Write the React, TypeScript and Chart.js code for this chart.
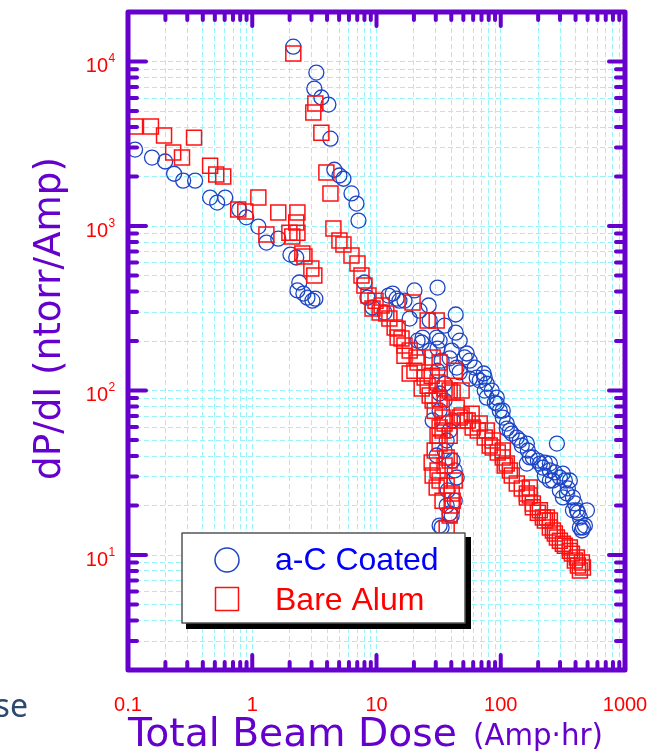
import React, { useEffect, useRef } from 'react';
import { Chart, registerables } from 'chart.js';

Chart.register(...registerables);

// a-C Coated (blue circles)
const coatedDose = [
  0.114, 0.156, 0.199, 0.235, 0.278, 0.347, 0.458, 0.522, 0.606, 0.785, 0.895, 1.12, 1.3, 1.62, 2.03, 2.26,
  2.39, 2.31, 2.58, 2.78, 3.05, 3.22, 2.14, 3.28, 3.16, 3.6, 4.1, 4.26, 4.58, 5.03, 5.42, 6.29, 6.9, 7.16,
  8.0, 8.46, 9.29, 12.5, 13.5, 14.5, 15.3, 20.2, 31.0, 26.3, 43.4, 43.4, 11.6, 18.5, 23.5, 30.5, 23.1, 32.2,
  53.2, 44.2, 61.7, 64.0, 32.2, 28.3, 41.0, 36.7, 41.0, 44.2, 38.8, 33.4, 40.3, 32.2, 77.1, 72.9, 84.6, 92.9,
  103.8, 103.8, 111.7, 118.3, 134.6, 142.3, 162.2, 171.4, 181.2, 206.5, 218.2, 283.1, 248.4, 299.2, 316.2,
  359.8, 340.4, 381, 381, 410, 433.6, 458.6, 449.8, 21.4, 31.0, 38.8, 51.3, 74.3, 35.3, 31.0, 92.9, 77.1,
  162.2, 248.4, 316.2, 494, 433.6, 248.4, 35.3, 37.4, 42.6, 30.5,
  56.2, 67.7, 74.3, 89.5, 98.2, 111.7, 122.7, 147.6, 165.2, 198.8, 226.5, 272.4, 328, 346.7, 395, 418, 475.6,
  299, 262.7, 226.5,
  16.8, 22.2, 26.8, 35.3, 46.7, 40.3, 26.8, 33.4, 46.7, 56.2, 32.2, 38.8, 35.3, 42.6, 36.7,
];
const coatedRate = [
  2920, 2610, 2470, 2080, 1890, 1890, 1490, 1390, 1490, 1260, 1130, 993, 794, 839, 671, 644,
  454, 406, 389, 367, 352, 362, 12330, 8580, 6850, 6050, 5480, 3400, 2200, 2030, 1940, 1580, 1370, 1080,
  454, 367, 320, 378, 389, 362, 352, 406, 423, 329, 290, 225, 298, 274, 210, 210, 196, 201,
  168, 138, 138, 120, 96, 65.8, 65.8, 49.7, 37.5, 29.6, 17.9, 14.7, 17.4, 15.1, 110, 127, 100, 90.6,
  75.5, 68.5, 63.0, 57.1, 51.8, 49.7, 47.6, 39.2, 39.2, 36.0, 34.0, 47.6, 32.7, 29.6, 31.3,
  28.4, 23.7, 22.4, 18.7, 18.7, 16.9, 14.7, 14.1, 201, 180, 157, 159, 120, 110, 132, 83.4, 90.6,
  36.0, 36.0, 22.4, 18.7, 14.7, 28.4, 86.9, 24.7, 32.7, 40.3,
  152, 115, 100, 84.5, 75.5, 58.7, 54.8, 46.3, 43.2, 37.5, 36.5, 31.8, 28.4, 25.4, 20.6, 18.1, 15.1,
  24.7, 28.4, 30.4,
  352, 306, 267, 248, 201, 175, 175, 152, 129, 118, 75.5, 57.1, 43.2, 21.4, 20.0,
];

// Bare Alum (red squares)
const bareDose = [
  0.114, 0.153, 0.195, 0.231, 0.272, 0.34, 0.458, 0.513, 0.584, 0.771, 0.879, 1.12, 1.3, 1.62, 2.31, 2.26,
  1.99, 2.31, 2.1, 2.53, 2.63, 2.99, 3.16, 2.14, 3.22, 3.1, 3.6, 3.95, 4.26, 4.5, 5.03, 5.42, 6.29, 7.03,
  8.0, 8.62, 9.29, 10.6, 12.0, 14.0, 19.5, 25.8, 30.5, 15.9, 16.8, 21.0, 28.3, 32.2, 20.2, 24.4, 23.1, 26.8,
  32.2, 41.0, 44.2, 34.0, 46.7, 58.3, 67.7, 77.1, 34.0, 32.2, 27.8, 31.0, 38.8, 30.5, 40.3, 40.3, 36.7, 18.5,
  38.8, 28.3, 59.4, 86.1, 103.8, 118.3, 134.6, 162.2, 162.2, 181.2, 181.2, 206.5, 218.2, 235, 248.4, 262.7,
  283.1, 299.2, 316.2, 359.8, 410, 449.8, 433.6, 103.8, 111.7, 171.4, 248.4, 359.8, 86.1, 51.3, 36.7, 32.2,
  41.0, 42.6, 48.4, 14.8,
  65.3, 74.3, 81.5, 94.6, 107.6, 122.7, 147.6, 171.4, 198.8, 226.5, 272.4, 328, 374, 418, 458.6, 395,
  7.57, 9.82, 11.0, 12.7, 14.8, 16.8, 18.5, 21.4, 27.8, 31.0, 35.3, 25.8,
  29.4, 35.3, 31.0, 38.8, 29.4, 35.3, 32.2, 36.7, 28.3, 38.8, 34.0, 42.6, 48.4, 54.2,
];
const bareRate = [
  4030, 4030, 3550, 2800, 2610, 3450, 2330, 2060, 2000, 1260, 1225, 1490, 888, 1210, 1210, 1050,
  912, 912, 863, 681, 653, 552, 500, 11190, 5560, 4900, 3700, 2115, 1580, 966, 817, 772, 662, 592,
  435, 378, 315, 298, 294, 242, 343, 267, 267, 207, 163, 159, 159, 148, 132, 120, 103, 93.3,
  89.3, 97.3, 78.9, 68.5, 68.5, 72.4, 63.0, 57.1, 57.1, 47.6, 36.5, 32.7, 37.5, 25.7, 23.7, 20.0, 14.5, 127,
  100, 86.9, 59.6, 45.0, 39.2, 32.7, 27.2, 23.7, 22.4, 20.6, 19.5, 18.7, 16.9, 16.9, 14.7, 14.1,
  12.8, 12.2, 11.7, 10.6, 9.66, 9.0, 8.05, 43.2, 36.0, 25.7, 16.2, 11.1, 49.7, 65.8, 39.2, 59.6,
  21.4, 132, 100, 210,
  57.1, 51.8, 46.3, 42.0, 35.0, 30.4, 25.4, 23.0, 18.1, 16.2, 13.5, 11.4, 10.2, 8.63, 8.39, 9.27,
  500, 352, 329, 274, 238, 188, 175, 148, 123, 112, 103, 107,
  75.5, 63.0, 53.2, 53.2, 43.2, 35.0, 28.4, 26.4, 30.4, 17.4, 21.4, 28.4, 70.5, 65.8,
];

// Axes
const xGridValues = [
  0.1, 0.2, 0.3, 0.4, 0.5, 0.6, 0.7, 0.8, 0.9, 1, 2, 3, 4, 5, 6, 7, 8, 9, 10, 20, 30, 40, 50, 60, 70, 80, 90,
  100, 200, 300, 400, 500, 600, 700, 800, 900, 1000,
];
const yGridValues = [
  2, 3, 4, 5, 6, 7, 8, 9, 10, 20, 30, 40, 50, 60, 70, 80, 90, 100, 200, 300, 400, 500, 600, 700, 800, 900,
  1000, 2000, 3000, 4000, 5000, 6000, 7000, 8000, 9000, 10000, 20000,
];
const xMajorValues = [0.1, 1, 10, 100, 1000];
const xTickLabels = ['0.1', '1', '10', '100', '1000'];
const yMajorValues = [10, 100, 1000, 10000];
const yTickExponents = ['1', '2', '3', '4'];

const seriesNames = ['a-C Coated', 'Bare Alum'];
const yTitle = 'dP/dI (ntorr/Amp)';
const xTitleMain = 'Total Beam Dose';
const xTitleUnit = '(Amp\u00b7hr)';
const sideText = 'se';

const PURPLE = '#6600cc';
const BLUE_MARK = '#1d45c6';
const RED_MARK = '#ff1010';
const GRID = 'rgb(150,244,250)';
const TITLE_FONT = '"DejaVu Sans", sans-serif';
const NUM_FONT = '"Liberation Sans", Arial, sans-serif';

function fitFont(ctx: CanvasRenderingContext2D, text: string, family: string, width: number) {
  ctx.font = `100px ${family}`;
  const w = ctx.measureText(text).width;
  const size = (100 * width) / w;
  return `${size.toFixed(2)}px ${family}`;
}

const decorPlugin = {
  id: 'decor',
  afterDraw(chart: any) {
    const ctx: CanvasRenderingContext2D = chart.ctx;
    const area = chart.chartArea;
    const xs = chart.scales.x;
    const ys = chart.scales.y;
    ctx.save();

    // ticks
    ctx.strokeStyle = PURPLE;
    ctx.lineCap = 'round';
    ctx.lineWidth = 4;
    xGridValues.forEach((v) => {
      if (v === xs.min || v === xs.max) return;
      const px = xs.getPixelForValue(v);
      const major = xMajorValues.includes(v);
      ctx.beginPath();
      ctx.moveTo(px, area.top);
      ctx.lineTo(px, area.top + (major ? 14 : 8));
      ctx.moveTo(px, area.bottom);
      ctx.lineTo(px, area.bottom - (major ? 15 : 8));
      ctx.stroke();
    });
    yGridValues.forEach((v) => {
      if (v === ys.min || v === ys.max) return;
      const py = ys.getPixelForValue(v);
      const major = yMajorValues.includes(v);
      ctx.beginPath();
      ctx.moveTo(area.left, py);
      ctx.lineTo(area.left + (major ? 18 : 9), py);
      ctx.moveTo(area.right, py);
      ctx.lineTo(area.right - (major ? 16 : 9), py);
      ctx.stroke();
    });

    // frame
    ctx.lineWidth = 5;
    ctx.lineJoin = 'round';
    ctx.strokeRect(area.left, area.top, area.right - area.left, area.bottom - area.top);

    // tick labels
    ctx.fillStyle = '#ff0000';
    ctx.textBaseline = 'alphabetic';
    xMajorValues.forEach((v, i) => {
      const px = xs.getPixelForValue(v);
      ctx.font = `20px ${NUM_FONT}`;
      ctx.textAlign = 'center';
      ctx.fillText(xTickLabels[i], px, 711);
    });
    yMajorValues.forEach((v, i) => {
      const py = ys.getPixelForValue(v);
      ctx.font = `20px ${NUM_FONT}`;
      ctx.textAlign = 'right';
      ctx.fillText('10', 108, py + 10.5);
      ctx.font = `12px ${NUM_FONT}`;
      ctx.textAlign = 'left';
      ctx.fillText(yTickExponents[i], 108.5, py + 0.5);
    });

    // axis titles
    ctx.fillStyle = PURPLE;
    ctx.textAlign = 'left';
    ctx.font = fitFont(ctx, xTitleMain, TITLE_FONT, 329);
    ctx.fillText(xTitleMain, 128, 746);
    ctx.font = fitFont(ctx, xTitleUnit, TITLE_FONT, 130);
    ctx.fillText(xTitleUnit, 473, 745);

    ctx.save();
    ctx.translate(60, 318.5);
    ctx.rotate(-Math.PI / 2);
    ctx.textAlign = 'center';
    ctx.font = fitFont(ctx, yTitle, TITLE_FONT, 323);
    ctx.fillText(yTitle, 0, 0);
    ctx.restore();

    // stray slide text
    ctx.fillStyle = '#2c4a6e';
    ctx.textAlign = 'right';
    ctx.font = `32px "Noto Sans", sans-serif`;
    ctx.fillText(sideText, 28, 717);

    // legend
    ctx.fillStyle = '#000000';
    ctx.fillRect(186, 537, 285, 92);
    ctx.fillStyle = '#ffffff';
    ctx.fillRect(182, 533, 283, 90);
    ctx.strokeStyle = '#555555';
    ctx.lineWidth = 1.5;
    ctx.strokeRect(182, 533, 283, 90);

    ctx.lineWidth = 1.5;
    ctx.strokeStyle = BLUE_MARK;
    ctx.beginPath();
    ctx.arc(227, 560, 12, 0, Math.PI * 2);
    ctx.stroke();
    ctx.strokeStyle = RED_MARK;
    ctx.strokeRect(215.5, 587.5, 23, 23);

    ctx.font = `32px ${NUM_FONT}`;
    ctx.textAlign = 'left';
    ctx.fillStyle = '#0000ff';
    ctx.fillText(seriesNames[0], 275, 570);
    ctx.fillStyle = '#ff0000';
    ctx.fillText(seriesNames[1], 275, 610);

    ctx.restore();
  },
};

export default function App() {
  const ref = useRef<HTMLCanvasElement | null>(null);

  useEffect(() => {
    if (!ref.current) return;
    const chart = new Chart(ref.current, {
      type: 'scatter',
      data: {
        datasets: [
          {
            label: seriesNames[0],
            data: coatedDose.map((x, i) => ({ x, y: coatedRate[i] })),
            pointStyle: 'circle',
            pointRadius: 7.5,
            pointBorderWidth: 1.3,
            pointBorderColor: BLUE_MARK,
            pointBackgroundColor: 'rgba(0,0,0,0)',
            order: 1,
          },
          {
            label: seriesNames[1],
            data: bareDose.map((x, i) => ({ x, y: bareRate[i] })),
            pointStyle: 'rect',
            pointRadius: 10.6,
            pointBorderWidth: 1.5,
            pointBorderColor: RED_MARK,
            pointBackgroundColor: 'rgba(0,0,0,0)',
            order: 0,
          },
        ],
      },
      options: {
        responsive: false,
        animation: false,
        events: [],
        layout: { padding: { left: 128, right: 40, top: 12, bottom: 85 } },
        plugins: { legend: { display: false }, tooltip: { enabled: false } },
        scales: {
          x: {
            type: 'logarithmic',
            min: 0.1,
            max: 1000,
            ticks: { display: false },
            grid: { color: GRID, lineWidth: 1, drawTicks: false },
            border: { display: false, dash: [5, 3] },
            afterBuildTicks: (scale: any) => {
              scale.ticks = xGridValues.map((v) => ({ value: v }));
            },
          },
          y: {
            type: 'logarithmic',
            min: 2,
            max: 20000,
            ticks: { display: false },
            grid: { color: GRID, lineWidth: 1, drawTicks: false },
            border: { display: false, dash: [5, 3] },
            afterBuildTicks: (scale: any) => {
              scale.ticks = yGridValues.map((v) => ({ value: v }));
            },
          },
        },
      },
      plugins: [decorPlugin],
    } as any);
    return () => chart.destroy();
  }, []);

  return (
    <div style={{ position: 'absolute', left: 0, top: 0, width: 665, height: 755, background: '#fff' }}>
      <canvas ref={ref} width={665} height={755} style={{ display: 'block' }} />
    </div>
  );
}
